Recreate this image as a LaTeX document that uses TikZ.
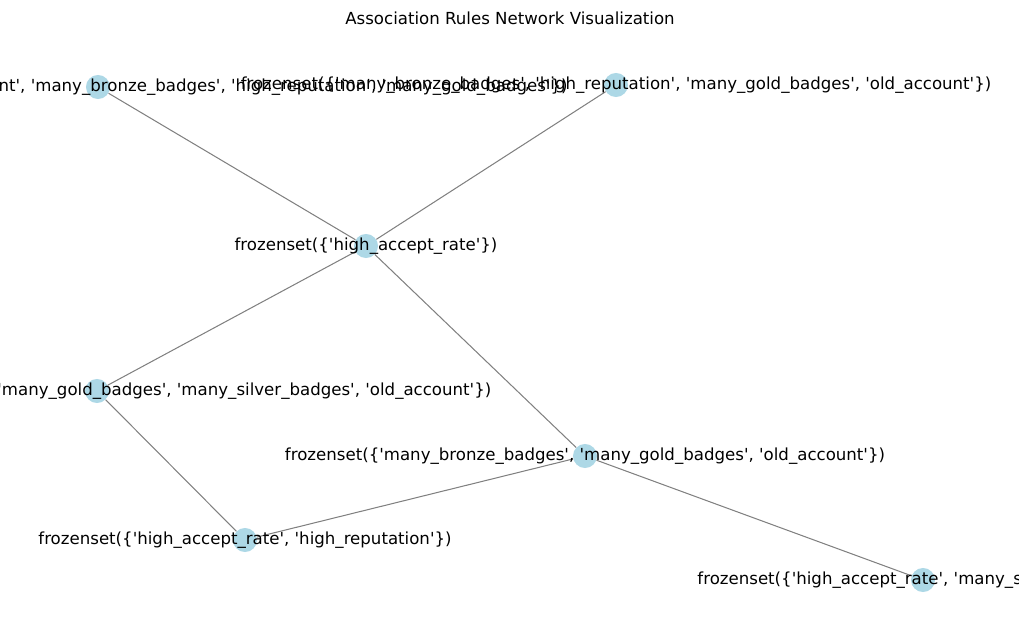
\documentclass[tikz,border=0pt]{standalone}
\usepackage{fontspec}
\setmainfont[Ligatures=TeXOff]{DejaVu Sans}
\usepackage{xcolor}
\usetikzlibrary{positioning}
\definecolor{nodeblue}{HTML}{ADD8E6}
\definecolor{edgegray}{HTML}{808080}

\begin{document}
\begin{tikzpicture}[x=0.254mm, y=-0.254mm, font=\fontsize{12}{14}\selectfont,
  rulenode/.style={circle, fill=nodeblue, minimum size=6.1mm, inner sep=0pt},
  rulelabel/.style={inner sep=0pt, anchor=center},
  ruleedge/.style={draw=edgegray, line width=0.75pt}]

  \useasboundingbox (0,0) rectangle (1019,642);
  \clip (0,0) rectangle (1019,642);

  \node[rulelabel] (title) at (510,18) {Association Rules Network Visualization};

  % itemset nodes
  \node[rulenode] (silverold)  at (98,87)   {};
  \node[rulenode] (bronzerep)  at (616,85)  {};
  \node[rulenode] (accept)     at (366,246) {};
  \node[rulenode] (goldsilver) at (97,391)  {};
  \node[rulenode] (bronzegold) at (585,456) {};
  \node[rulenode] (acceptrep)  at (245,540) {};
  \node[rulenode] (acceptmany) at (923,580) {};

  % rules
  \draw[ruleedge] (accept) -- (silverold);
  \draw[ruleedge] (accept) -- (bronzerep);
  \draw[ruleedge] (accept) -- (goldsilver);
  \draw[ruleedge] (accept) -- (bronzegold);
  \draw[ruleedge] (goldsilver) -- (acceptrep);
  \draw[ruleedge] (bronzegold) -- (acceptrep);
  \draw[ruleedge] (bronzegold) -- (acceptmany);

  % labels
  \node[rulelabel] at (silverold) {frozenset(\{'many\_silver\_badges', 'old\_account', 'many\_bronze\_badges', 'high\_reputation', 'many\_gold\_badges'\})};
  \node[rulelabel] at (bronzerep) {frozenset(\{'many\_bronze\_badges', 'high\_reputation', 'many\_gold\_badges', 'old\_account'\})};
  \node[rulelabel] at (accept) {frozenset(\{'high\_accept\_rate'\})};
  \node[rulelabel] at (goldsilver) {frozenset(\{'many\_bronze\_badges', 'many\_gold\_badges', 'many\_silver\_badges', 'old\_account'\})};
  \node[rulelabel] at (bronzegold) {frozenset(\{'many\_bronze\_badges', 'many\_gold\_badges', 'old\_account'\})};
  \node[rulelabel] at (acceptrep) {frozenset(\{'high\_accept\_rate', 'high\_reputation'\})};
  \node[rulelabel] at (acceptmany) {frozenset(\{'high\_accept\_rate', 'many\_silver\_badges'\})};
\end{tikzpicture}
\end{document}
